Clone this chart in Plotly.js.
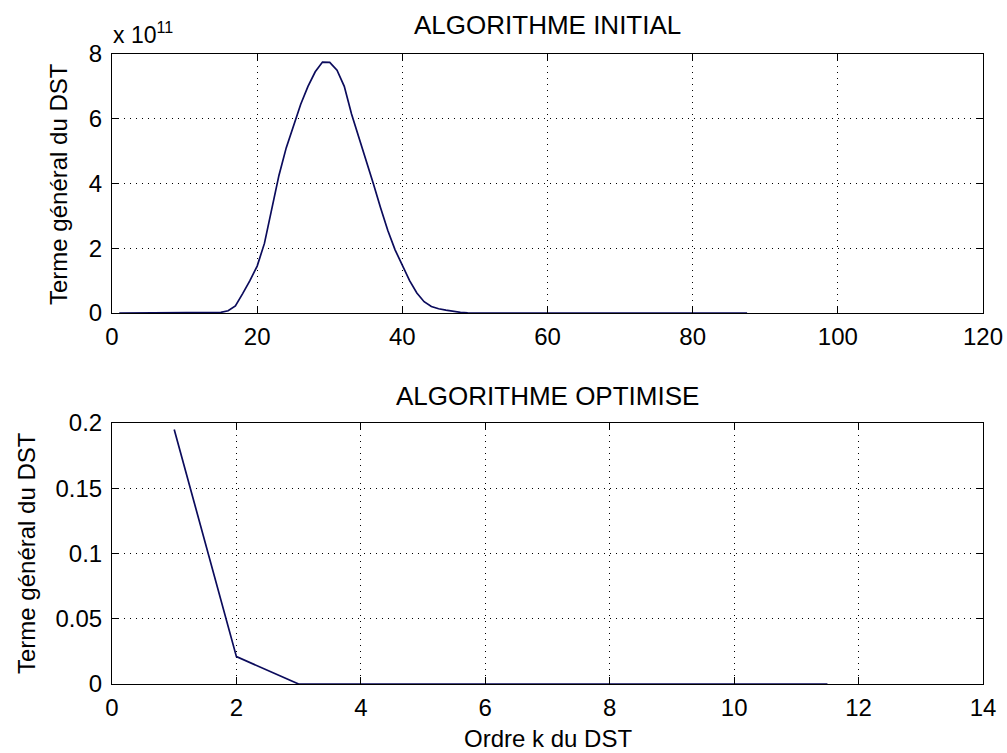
<!DOCTYPE html>
<html>
<head>
<meta charset="utf-8">
<script src="https://cdn.plot.ly/plotly-3.0.1.min.js"></script>
<style>html,body{margin:0;padding:0;background:#fff;}#chart{width:1007px;height:753px;}</style>
</head>
<body>
<div id="chart"></div>
<script>
// ---- data ----
var titleInitial = "ALGORITHME INITIAL";
var titleOptimise = "ALGORITHME OPTIMISE";
var yLabel = "Terme général du DST";
var xLabel = "Ordre k du DST";
var scaleLabel = "x 10<sup>11</sup>";

// Initial algorithm: order k and general term (in units of 1e11)
var kInitial = [1,2,3,4,5,6,7,8,9,10,11,12,13,14,15,16,17,18,19,20,
                21,22,23,24,25,26,27,28,29,30,31,32,33,34,35,36,37,38,39,40,
                41,42,43,44,45,46,47,48,49,50,87.5];
var termInitial = [0,0,0,0,0,0,0,0,0,0,0,0,0,0.005,0.02,0.07,0.22,0.6,1.0,1.45,
                   2.15,3.2,4.25,5.1,5.8,6.45,7.0,7.45,7.75,7.74,7.5,7.0,6.15,5.45,4.75,4.0,3.25,2.55,1.95,1.5,
                   1.0,0.62,0.35,0.2,0.13,0.09,0.05,0.02,0.005,0,0];

// Optimised algorithm
var kOpt = [1,2,3,4,5,6,7,8,9,10,11,11.5];
var termOpt = [0.195,0.021,0,0,0,0,0,0,0,0,0,0];

// ticks
var xTicksInitial = [0,20,40,60,80,100,120];
var yTicksInitial = [0,2,4,6,8];
var xTicksOpt = [0,2,4,6,8,10,12,14];
var yTicksOpt = [0,0.05,0.1,0.15,0.2];

// ---- layout helpers ----
var L = 112, R = 983, T = 54, B = 684;
function px(p){ return (p - L) / (R - L); }
function py(p){ return (B - p) / (B - T); }

var FONT = "Liberation Sans, Arial, Helvetica, sans-serif";
var lineColor = "#0b0b5c";

function axisStyle(extra){
  var a = {
    showline: true, linecolor: "#000", linewidth: 1, mirror: "ticks",
    ticks: "inside", ticklen: 7, tickcolor: "#000", tickwidth: 1,
    showgrid: true, gridcolor: "#000", gridwidth: 1, griddash: "1px,5px",
    zeroline: false, tickfont: {family: FONT, size: 24, color: "#000"},
    fixedrange: true
  };
  for (var k in extra) a[k] = extra[k];
  return a;
}

var traces = [
  {x: kInitial, y: termInitial, xaxis: "x", yaxis: "y", type: "scatter", mode: "lines",
   line: {color: lineColor, width: 1.7}, hoverinfo: "skip"},
  {x: kOpt, y: termOpt, xaxis: "x2", yaxis: "y2", type: "scatter", mode: "lines",
   line: {color: lineColor, width: 1.7}, hoverinfo: "skip"}
];

var layout = {
  width: 1007, height: 753,
  margin: {l: L, r: 1007 - R, t: T, b: 753 - B, pad: 0},
  paper_bgcolor: "#fff", plot_bgcolor: "#fff",
  showlegend: false,
  font: {family: FONT, color: "#000"},
  xaxis: axisStyle({anchor: "y", domain: [0,1], range: [0,120], tickvals: xTicksInitial, ticklabelstandoff: 2}),
  yaxis: axisStyle({anchor: "x", domain: [py(313), 1], range: [0,8], tickvals: yTicksInitial, ticklabelstandoff: 4}),
  xaxis2: axisStyle({anchor: "y2", domain: [0,1], range: [0,14], tickvals: xTicksOpt, ticklabelstandoff: 2}),
  yaxis2: axisStyle({anchor: "x2", domain: [0, py(423)], range: [0,0.2], tickvals: yTicksOpt, ticklabelstandoff: 4}),
  annotations: [
    {text: titleInitial, xref: "paper", yref: "paper", x: 0.5, y: py(25), xanchor: "center", yanchor: "middle",
     showarrow: false, font: {family: FONT, size: 26, color: "#000"}},
    {text: titleOptimise, xref: "paper", yref: "paper", x: 0.5, y: py(396), xanchor: "center", yanchor: "middle",
     showarrow: false, font: {family: FONT, size: 26, color: "#000"}},
    {text: xLabel, xref: "paper", yref: "paper", x: 0.5, y: py(738), xanchor: "center", yanchor: "middle",
     showarrow: false, font: {family: FONT, size: 24, color: "#000"}},
    {text: yLabel, xref: "paper", yref: "paper", x: px(58), y: py(184), xanchor: "center", yanchor: "middle",
     textangle: -90, showarrow: false, font: {family: FONT, size: 24, color: "#000"}},
    {text: yLabel, xref: "paper", yref: "paper", x: px(26), y: py(553), xanchor: "center", yanchor: "middle",
     textangle: -90, showarrow: false, font: {family: FONT, size: 24, color: "#000"}},
    {text: scaleLabel, xref: "paper", yref: "paper", x: px(111), y: py(33), xanchor: "left", yanchor: "middle",
     showarrow: false, font: {family: FONT, size: 23, color: "#000"}}
  ]
};

Plotly.newPlot("chart", traces, layout, {displayModeBar: false, staticPlot: true});
</script>
</body>
</html>
